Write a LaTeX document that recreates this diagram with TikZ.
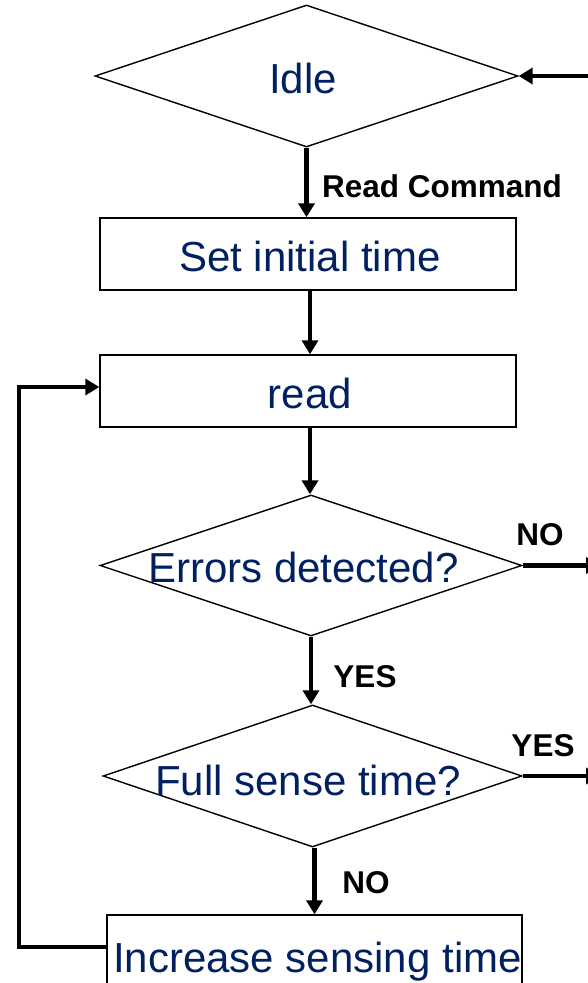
\documentclass[tikz,border=0pt]{standalone}
\usepackage{fontspec}
\setmainfont{Liberation Sans}
\usetikzlibrary{shapes.geometric,arrows.meta}
\definecolor{navy}{RGB}{0,32,96}
\tikzset{
  box/.style={draw, line width=1.4pt, minimum width=416pt, minimum height=72pt, inner sep=0pt},
  dia/.style={draw, diamond, line width=1.4pt, inner sep=0pt},
  txt/.style={text=navy, font=\fontsize{42}{42}\selectfont, inner sep=0pt, anchor=base},
  lbl/.style={font=\fontsize{31.5}{31.5}\selectfont\bfseries, inner sep=0pt, anchor=base},
  arr/.style={line width=4.2pt, -{Triangle[length=14pt,width=16pt]}},
}
\begin{document}
\begin{tikzpicture}[x=1pt,y=-1pt]
\useasboundingbox (0,0) rectangle (588,983);
\clip (0,0) rectangle (588,983);
% shapes
\node[dia, minimum width=423pt, minimum height=142pt] (idle) at (306.5,76) {};
\node[box] (set) at (308,254) {};
\node[box] (rd) at (308,391) {};
\node[dia, minimum width=422pt, minimum height=141pt] (err) at (311,565.5) {};
\node[dia, minimum width=419pt, minimum height=142pt] (full) at (312.5,776) {};
\node[box, minimum width=415pt, minimum height=80pt] (inc) at (314.5,955) {};
% texts
\node[txt] (idleT) at (303,93) {Idle};
\node[txt] (setT) at (310,271) {Set initial time};
\node[txt] (rdT) at (310,408) {read};
\node[txt] (errT) at (303.5,582.5) {Errors detected?};
\node[txt] (fullT) at (308,795) {Full sense time?};
\node[txt] (incT) at (317.5,972) {Increase sensing time};
% labels
\node[lbl, anchor=base west] (lRC) at (322,197) {Read Command};
\node[lbl] (lNO1) at (540,545) {NO};
\node[lbl] (lYES1) at (365,687) {YES};
\node[lbl] (lYES2) at (543,756) {YES};
\node[lbl] (lNO2) at (366,893) {NO};
% connectors
\coordinate (outR) at (600,0);
\draw[arr] (outR |- idle.east) -- (idle.east);
\draw[arr] (idle.south) -- (idle.south |- set.north);
\draw[arr] ([xshift=2pt]set.south) -- ([xshift=2pt]rd.north);
\draw[arr] ([xshift=2pt]rd.south) -- ([xshift=2pt]rd.south |- err.north);
\draw[arr] (err.south) -- (err.south |- full.north);
\draw[arr] ([xshift=2pt]full.south) -- ([xshift=2pt]full.south |- inc.north);
\draw[arr] (err.east) -- (err.east -| outR);
\draw[arr] (full.east) -- (full.east -| outR);
\draw[arr] ([yshift=8pt]inc.west) -- ++(-87pt,0) |- ([yshift=4pt]rd.west);
\end{tikzpicture}
\end{document}
